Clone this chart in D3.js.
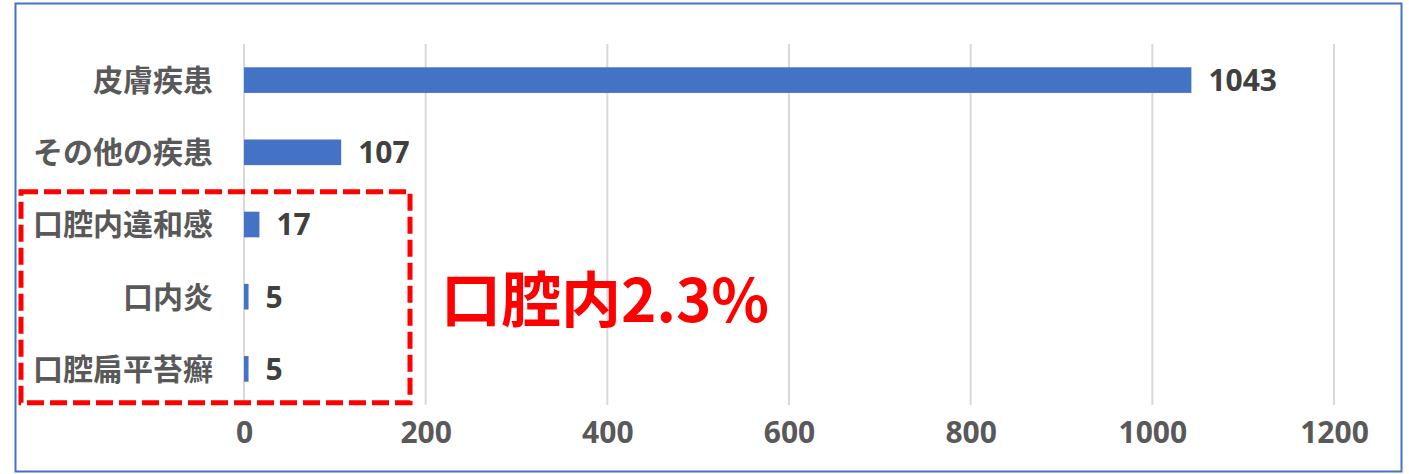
<!DOCTYPE html>
<html>
<head>
<meta charset="utf-8">
<script src="https://cdn.jsdelivr.net/npm/d3@7"></script>
<style>
  body { margin: 0; background: #fff; }
  svg { display: block; }
</style>
</head>
<body>
<div id="chart"></div>
<script>
// data
var categories = ["皮膚疾患", "その他の疾患", "口腔内違和感", "口内炎", "口腔扁平苔癬"];
var counts = [1043, 107, 17, 5, 5];
var tickValues = [0, 200, 400, 600, 800, 1000, 1200];
var highlighted = ["口腔内違和感", "口内炎", "口腔扁平苔癬"];
var noteText = "口腔内2.3%";

var W = 1409, H = 474;
var margin = {top: 44, right: 75, bottom: 69, left: 244};

var svg = d3.select("#chart")
  .append("svg")
    .attr("width", W)
    .attr("height", H);

// outer frame
svg.append("rect")
    .attr("x", 15.5)
    .attr("y", 3.5)
    .attr("width", 1386)
    .attr("height", 468)
    .attr("fill", "none")
    .attr("stroke", "#4472C4")
    .attr("stroke-width", 2);

var x = d3.scaleLinear()
    .domain([0, 1200])
    .range([margin.left, W - margin.right]);

var y = d3.scaleBand()
    .domain(categories)
    .range([margin.top, H - margin.bottom])
    .paddingInner(0.645)
    .paddingOuter(0.3225);

// gridlines
svg.append("g")
    .selectAll("line")
    .data(tickValues)
  .enter().append("line")
    .attr("x1", d => x(d))
    .attr("x2", d => x(d))
    .attr("y1", margin.top)
    .attr("y2", H - margin.bottom)
    .attr("stroke", "#D9D9D9")
    .attr("stroke-width", 2);

// x axis labels
var xAxis = svg.append("g")
    .attr("transform", "translate(0," + (H - margin.bottom + 17) + ")")
    .call(d3.axisBottom(x).tickValues(tickValues).tickFormat(d3.format("d")).tickSize(0).tickPadding(0));
xAxis.select(".domain").remove();
xAxis.selectAll("text")
    .attr("dy", "0.71em")
    .attr("fill", "#595959")
    .style("font-family", "'Noto Sans', 'Noto Sans CJK JP', sans-serif")
    .style("font-size", "30px")
    .style("font-weight", "bold");

// bars
svg.append("g")
    .selectAll("rect")
    .data(counts)
  .enter().append("rect")
    .attr("x", x(0))
    .attr("y", (d, i) => y(categories[i]))
    .attr("width", d => x(d) - x(0))
    .attr("height", y.bandwidth())
    .attr("fill", "#4472C4");

// value labels
svg.append("g")
    .selectAll("text")
    .data(counts)
  .enter().append("text")
    .attr("x", d => x(d) + 17)
    .attr("y", (d, i) => y(categories[i]) + y.bandwidth() / 2)
    .attr("dy", "0.36em")
    .attr("fill", "#404040")
    .style("font-family", "'Noto Sans', 'Noto Sans CJK JP', sans-serif")
    .style("font-size", "30px")
    .style("font-weight", "bold")
    .text(d => d);

// category labels
svg.append("g")
    .selectAll("text")
    .data(categories)
  .enter().append("text")
    .attr("x", 213)
    .attr("y", d => y(d) + y.bandwidth() / 2)
    .attr("dy", "0.36em")
    .attr("text-anchor", "end")
    .attr("fill", "#595959")
    .style("font-family", "'Noto Sans CJK JP', sans-serif")
    .style("font-size", "30px")
    .style("font-weight", 600)
    .text(d => d);

// dashed box round the oral items
var yTop = y(highlighted[0]) - 20;
var yBot = y(highlighted[highlighted.length - 1]) + y.bandwidth() + 21;
svg.append("rect")
    .attr("x", 21)
    .attr("y", yTop)
    .attr("width", 389)
    .attr("height", yBot - yTop)
    .attr("fill", "none")
    .attr("stroke", "#FF0000")
    .attr("stroke-width", 5)
    .attr("stroke-dasharray", "17,6");

svg.append("text")
    .attr("x", 441)
    .attr("y", 322)
    .attr("fill", "#FF0000")
    .style("font-family", "'Noto Sans CJK JP', sans-serif")
    .style("font-size", "60px")
    .style("font-weight", "bold")
    .text(noteText);
</script>
</body>
</html>
